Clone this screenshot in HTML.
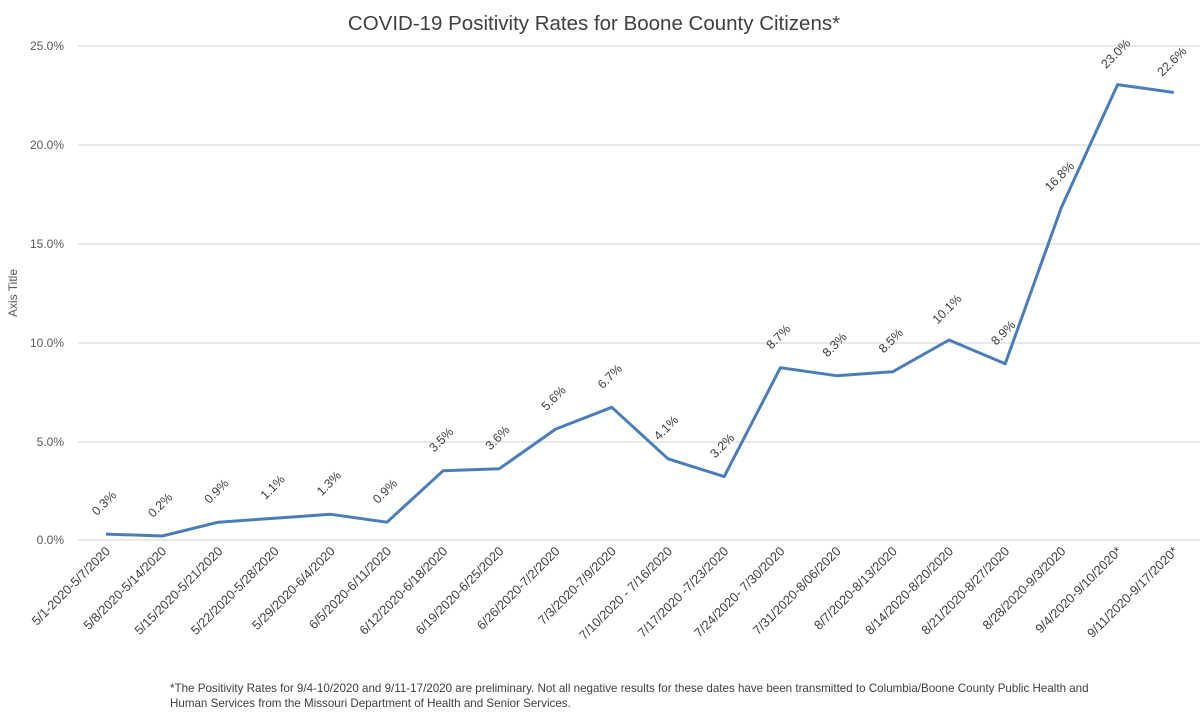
<!DOCTYPE html>
<html><head><meta charset="utf-8"><style>
body{margin:0;background:#fff}
svg{display:block;font-family:"Liberation Sans",sans-serif}
</style></head><body>
<svg width="1200" height="719" viewBox="0 0 1200 719" xmlns="http://www.w3.org/2000/svg">
<rect width="1200" height="719" fill="#fff"/>
<text x="594" y="30" text-anchor="middle" font-size="20.5" fill="#404040">COVID-19 Positivity Rates for Boone County Citizens*</text>
<g stroke="#d9d9d9" stroke-width="1.2">
<line x1="78" y1="46" x2="1200" y2="46"/>
<line x1="78" y1="145" x2="1200" y2="145"/>
<line x1="78" y1="244" x2="1200" y2="244"/>
<line x1="78" y1="343" x2="1200" y2="343"/>
<line x1="78" y1="442" x2="1200" y2="442"/>
<line x1="78" y1="540" x2="1200" y2="540"/>
</g>
<g font-size="12" fill="#595959" text-anchor="end">
<text x="64" y="50">25.0%</text>
<text x="64" y="149">20.0%</text>
<text x="64" y="248">15.0%</text>
<text x="64" y="347">10.0%</text>
<text x="64" y="446">5.0%</text>
<text x="64" y="544">0.0%</text>
</g>
<text transform="translate(17,293) rotate(-90)" text-anchor="middle" font-size="12" fill="#595959">Axis Title</text>
<g id="g"></g>
<text x="170" y="692" font-size="11.6" fill="#404040">*The Positivity Rates for 9/4-10/2020 and 9/11-17/2020 are preliminary.  Not all negative results for these dates have been transmitted to Columbia/Boone County Public Health and</text>
<text x="170" y="707" font-size="11.6" fill="#404040">Human Services from the Missouri Department of Health and Senior Services.</text>
<script>
var v=[0.3,0.2,0.9,1.1,1.3,0.9,3.5,3.6,5.6,6.7,4.1,3.2,8.7,8.3,8.5,10.1,8.9,16.8,23.0,22.6];
var c=["5/1-2020-5/7/2020","5/8/2020-5/14/2020","5/15/2020-5/21/2020","5/22/2020-5/28/2020","5/29/2020-6/4/2020","6/5/2020-6/11/2020","6/12/2020-6/18/2020","6/19/2020-6/25/2020","6/26/2020-7/2/2020","7/3/2020-7/9/2020","7/10/2020 - 7/16/2020","7/17/2020 -7/23/2020","7/24/2020- 7/30/2020","7/31/2020-8/06/2020","8/7/2020-8/13/2020","8/14/2020-8/20/2020","8/21/2020-8/27/2020","8/28/2020-9/3/2020","9/4/2020-9/10/2020*","9/11/2020-9/17/2020*"];
var ns="http://www.w3.org/2000/svg",g=document.getElementById("g"),pts=[];
function t(x,y,s,a,fs){var e=document.createElementNS(ns,"text");e.setAttribute("transform","translate("+x+","+y+") rotate(-45)");e.setAttribute("text-anchor",a);e.setAttribute("font-size",fs);e.setAttribute("fill","#404040");e.textContent=s;g.appendChild(e);}
for(var i=0;i<20;i++){var x=106+56.2*i,y=540-v[i]*19.8;pts.push(x.toFixed(1)+","+y.toFixed(1));
t(x+5,552,c[i],"end",12.8);t(x+1,y-28,v[i].toFixed(1)+"%","middle",12.5);}
var p=document.createElementNS(ns,"polyline");p.setAttribute("points",pts.join(" "));p.setAttribute("fill","none");p.setAttribute("stroke","#4a7ebb");p.setAttribute("stroke-width","3");p.setAttribute("stroke-linejoin","round");g.appendChild(p);
</script>
</svg>
</body></html>
